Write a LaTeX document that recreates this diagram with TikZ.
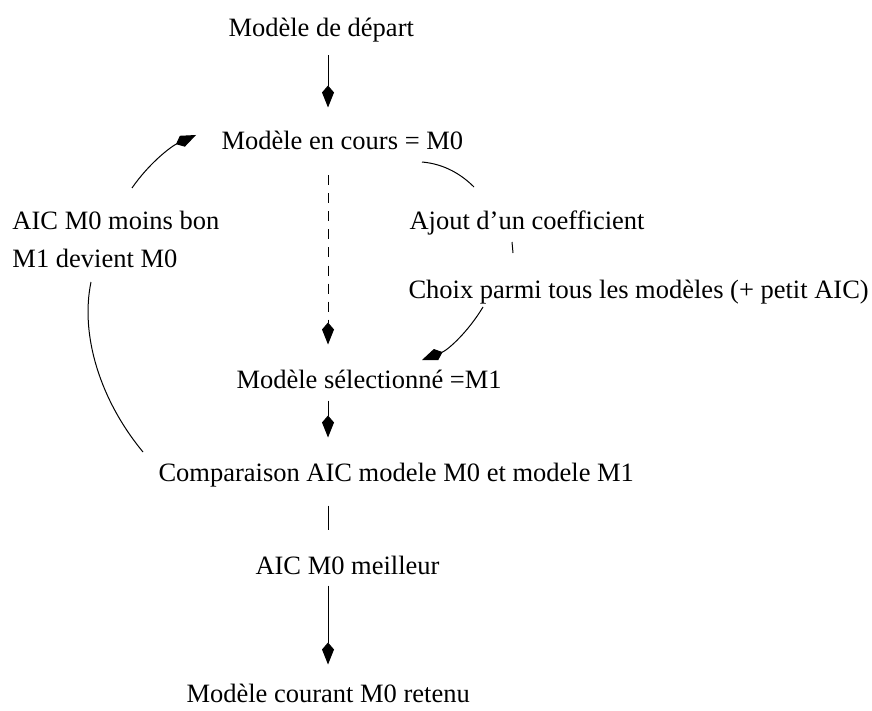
\documentclass[tikz,border=0pt]{standalone}
\usepackage{fontspec}
\setmainfont{Liberation Serif}
\usepackage{tikz}
\usetikzlibrary{arrows.meta}

\tikzset{
  lbl/.style={inner sep=0pt, anchor=base west, text height=19pt, text depth=6pt,
    font=\fontsize{26.5}{30}\selectfont},
  fl/.style={-{Kite[length=22pt,width=12pt,inset=7pt]}},
}

\begin{document}
\begin{tikzpicture}[x=1pt,y=-1pt,line width=1pt]
        \useasboundingbox (0,0) rectangle (872,711);
        \coordinate (axe) at (328,0);
        % the nodes
        \node[lbl] (depart) at (228,37) {Modèle de départ};
        \node[lbl] (encours) at (221,150) {Modèle en cours = M0};
        \node[lbl] (moins) at (12,230) {AIC M0 moins bon};
        \node[lbl] (devient) at (12,268) {M1 devient M0};
        \node[lbl] (ajout) at (409,230) {Ajout d’un coefficient};
        \node[lbl] (choix) at (408,298) {Choix parmi tous les modèles (+ petit AIC)};
        \node[lbl] (selec) at (236,388) {Modèle sélectionné =M1};
        \node[lbl] (compar) at (158,481) {Comparaison AIC modele M0 et modele M1};
        \node[lbl] (meilleur) at (255,574) {AIC M0 meilleur};
        \node[lbl] (retenu) at (186,702) {Modèle courant M0 retenu};
        % free ends of the curves
        \coordinate (g1) at (143,452);
        \coordinate (g2) at (91,282);
        \coordinate (h1) at (132,188);
        \coordinate (h2) at (196,135);
        \coordinate (d1) at (422,162);
        \coordinate (d2) at (474,187);
        \coordinate (t1) at (512,242);
        \coordinate (t2) at (513,253);
        \coordinate (b1) at (483,307);
        \coordinate (b2) at (422,360);
        % main column
        \draw[fl, shorten <=12pt, shorten >=23pt] (depart.south -| axe) -- (encours.north -| axe);
        \draw[fl, dash pattern=on 10pt off 8pt, shorten <=19pt, shorten >=24pt] (encours.south -| axe) -- (selec.north -| axe);
        \draw[fl, shorten <=6pt, shorten >=24pt] (selec.south -| axe) -- (compar.north -| axe);
        \draw[shorten <=18pt, shorten >=25pt] (compar.south -| axe) -- (meilleur.north -| axe);
        \draw[fl, shorten <=5pt, shorten >=18pt] (meilleur.south -| axe) -- (retenu.north -| axe);
        % loop on the left
        \draw (g1) .. controls (100,400) and (80,335) .. (g2);
        \draw[fl] (h1) .. controls (150,162) and (172,146) .. (h2);
        % right side
        \draw (d1) .. controls (445,164) and (462,175) .. (d2);
        \draw (t1) -- (t2);
        \draw[fl] (b1) .. controls (468,332) and (448,350) .. (b2);
\end{tikzpicture}
\end{document}
